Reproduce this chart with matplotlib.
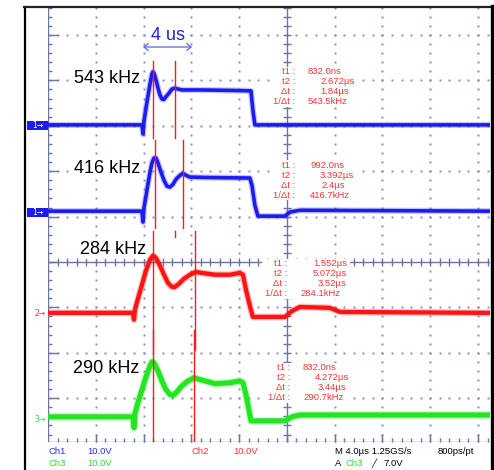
import numpy as np
import matplotlib
matplotlib.use("Agg")
import matplotlib.pyplot as plt
from matplotlib.lines import Line2D
from matplotlib.patches import Rectangle, FancyArrowPatch

W, H, DPI = 494, 470, 100

# Scope settings: 4 us/div horizontal, 10 V/div vertical
US_PER_DIV = 4.0
V_PER_DIV = 10.0

# ---- waveforms: screen time (us, 0 = screen centre) and volts above channel ground ----
t_a = [-20.0, -12.13, -12.05, -11.97, -11.80, -11.63, -11.46, -11.30, -11.21, -11.13,
       -10.96, -10.79, -10.63, -10.46, -10.29, -10.13, -9.87, -9.62, -9.37, -9.12,
       -8.79, -7.28, -4.77, -3.01, -2.85, -2.68, 17.0]
v_a = [0, 0, -2.0, 0.7, 3.7, 6.4, 9.0, 11.2, 11.7, 11.4,
       9.9, 8.1, 6.6, 5.7, 5.6, 6.2, 7.0, 7.9, 8.1, 7.9,
       7.7, 7.7, 7.6, 7.5, 3.3, 0, 0]

t_b = [-20.0, -12.13, -12.05, -11.97, -11.80, -11.63, -11.46, -11.30, -11.13, -10.96,
       -10.79, -10.54, -10.29, -10.04, -9.79, -9.54, -9.29, -8.95, -8.70, -8.45,
       -8.12, -6.44, -3.10, -2.93, -2.68, -2.43, -0.17, 0.25, 1.09, 17.0]
v_b = [0, 0, -2.4, 0.7, 3.3, 6.0, 8.6, 10.6, 11.7, 11.7,
       10.6, 8.6, 6.8, 5.5, 5.3, 5.9, 7.0, 7.9, 8.3, 7.9,
       7.5, 7.4, 7.3, 5.7, 1.3, -1.1, -1.1, -0.2, 0.2, 0]

t_c = [-20.0, -12.89, -12.80, -12.72, -12.47, -12.13, -11.80, -11.46, -11.21, -10.96,
       -10.63, -10.29, -9.96, -9.62, -9.37, -9.04, -8.62, -8.12, -7.62, -7.11,
       -6.03, -4.77, -3.93, -3.68, -3.43, -3.10, -2.85, -0.17, 0.42, 1.09,
       3.60, 4.44, 17.0]
v_c = [0, 0, -1.5, 0.7, 3.1, 6.2, 9.3, 11.7, 12.6, 12.1,
       10.4, 8.4, 6.6, 5.7, 5.7, 6.4, 7.5, 8.4, 9.0, 8.8,
       8.4, 8.4, 8.8, 8.4, 5.1, 1.5, -0.9, -0.9, 0.4, 1.3,
       1.1, 0.2, 0]

t_d = [-20.0, -12.89, -12.80, -12.72, -12.47, -12.13, -11.80, -11.46, -11.30, -11.13,
       -10.79, -10.46, -10.13, -9.79, -9.54, -9.21, -8.79, -8.28, -7.78, -7.28,
       -6.03, -4.77, -3.93, -3.68, -3.43, -3.18, -3.01, -0.17, 0.42, 1.09, 17.0]
v_d = [0, 0, -2.4, 0.7, 3.1, 6.0, 8.8, 11.2, 12.1, 11.9,
       10.1, 7.9, 6.0, 4.9, 4.7, 5.5, 6.8, 7.9, 8.6, 8.2,
       7.3, 7.5, 7.9, 7.5, 4.9, 1.5, -0.9, -0.9, 0.0, 0.4, 0.4]

# channel ground marker positions (divisions from centre)
ground_div = [3.02, 1.12, -1.12, -3.41]
trace_colors = ["#1c1cf2", "#1c1cf2", "#ff1414", "#22e622"]
trace_widths = [2.6, 2.6, 3.1, 3.7]
freq_labels = ["543 kHz", "416 kHz", "284 kHz", "290 kHz"]

# cursor readings (us, from each capture's trigger point) and trigger screen time
cursor_t1 = [0.832, 0.992, 1.552, 0.832]
cursor_t2 = [2.672, 3.392, 5.072, 4.272]
trigger_t = [-12.05, -12.05, -12.77, -12.05]
cursor_span = [(4.43, 2.73), (2.69, 0.75), (0.68, -1.94), (-1.50, -3.94)]

GRID_C = "#6c74a6"
DOT_C = "#8a8ac4"
CURSOR_C = "#ff1a1a"
READ_C = "#ff3434"

fig = plt.figure(figsize=(W / DPI, H / DPI), dpi=DPI)
fig.patch.set_facecolor("white")


def fx(px):
    return px / W


def fy(py):
    return 1 - py / H


ax = fig.add_axes([fx(48), fy(442), (490 - 48) / W, (442 - 7) / H])
X0, X1 = -20.0, 17.0
Y0, Y1 = -3.965, 5.617
ax.set_xlim(X0, X1)
ax.set_ylim(Y0, Y1)
ax.axis("off")

# ---- graticule ----
major_x = np.arange(-16, 17, 4)
major_y = np.arange(-3, 6, 1)
minor_x = np.arange(-19.2, 17.0, 0.8)
minor_y = np.arange(-3.8, 5.61, 0.2)

for xm in major_x:
    if xm == 0:
        continue
    ax.plot(np.full_like(minor_y, xm), minor_y, ls="none", marker="s",
            ms=1.4, mew=0, color=DOT_C, zorder=1)
for ym in major_y:
    if ym == 0:
        continue
    ax.plot(minor_x, np.full_like(minor_x, ym), ls="none", marker="s",
            ms=1.4, mew=0, color=DOT_C, zorder=1)

# left edge
ax.plot([X0, X0], [Y0, Y1], color=GRID_C, lw=1.0, zorder=2)
ax.plot(np.full_like(minor_y, X0), minor_y, ls="none", marker=1, ms=3,
        mew=1.0, color=GRID_C, zorder=2)
ax.plot(np.full(len(major_y), X0), major_y, ls="none", marker=1, ms=7,
        mew=1.0, color=GRID_C, zorder=2)
# bottom edge
ax.plot([X0, X1], [Y0, Y0], color=GRID_C, lw=1.0, zorder=2)
ax.plot(minor_x, np.full_like(minor_x, Y0), ls="none", marker=2, ms=3,
        mew=1.0, color=GRID_C, zorder=2)
ax.plot(major_x, np.full(len(major_x), Y0), ls="none", marker=2, ms=6,
        mew=1.0, color=GRID_C, zorder=2)
# centre axes
ax.plot([0, 0], [Y0, Y1], color=GRID_C, lw=1.0, zorder=2)
ax.plot(np.zeros_like(minor_y), minor_y, ls="none", marker="_", ms=6,
        mew=1.0, color=GRID_C, zorder=2)
ax.plot([X0, X1], [0, 0], color=GRID_C, lw=1.0, zorder=2)
ax.plot(minor_x, np.zeros_like(minor_x), ls="none", marker="|", ms=6,
        mew=1.0, color=GRID_C, zorder=2)

# ---- traces ----
series = [(t_a, v_a), (t_b, v_b), (t_c, v_c), (t_d, v_d)]
for (tt, vv), g, c, w in zip(series, ground_div, trace_colors, trace_widths):
    y = g + np.asarray(vv) / V_PER_DIV
    ax.plot(tt, y, color=c, lw=w + 1.8, alpha=0.25, solid_joinstyle="round",
            solid_capstyle="butt", zorder=3)
    ax.plot(tt, y, color=c, lw=w, solid_joinstyle="round",
            solid_capstyle="butt", zorder=4)

# ---- cursors ----
for t1, t2, tr, (ya, yb) in zip(cursor_t1, cursor_t2, trigger_t, cursor_span):
    for tc in (t1, t2):
        ax.plot([tr + tc, tr + tc], [ya, yb], color=CURSOR_C, lw=1.0, zorder=6)
ax.plot([-9.37, -9.37], [0.68, 0.55], color=CURSOR_C, lw=1.0, zorder=6)

# ---- cursor read-outs (opaque boxes over the graticule) ----
read_rows = [[72, 82, 92, 102], [165, 175, 185, 195],
             [264, 274, 284, 294], [368, 378, 388, 398]]
label_right = [295, 295, 287, 290]
value_left = [[308, 320, 320, 308], [310, 320, 321, 310],
              [313, 313, 318, 300], [303, 315, 318, 303]]
block_x = [(270, 357), (270, 359), (262, 350), (265, 353)]


def fmt_time(t):
    if t < 1.0:
        return f"{t * 1000:.1f}ns"
    return f"{t:.3f}µs"


for i in range(4):
    t1, t2 = cursor_t1[i], cursor_t2[i]
    dt = round(t2 - t1, 3)
    vals = [fmt_time(t1), f"{t2:.3f}µs",
            f"{dt:.3f}".rstrip("0").rstrip(".") + "µs",
            f"{1000.0 / dt:.1f}kHz"]
    labs = ["t1 :", "t2 :", "Δt :", "1/Δt :"]
    bx0, bx1 = block_x[i]
    by0, by1 = read_rows[i][0] - 5, read_rows[i][-1] + 5
    fig.add_artist(Rectangle((fx(bx0), fy(by1)), (bx1 - bx0) / W, (by1 - by0) / H,
                             transform=fig.transFigure, facecolor="white",
                             edgecolor="none", zorder=2))
    for r in range(4):
        yy = read_rows[i][r]
        fig.text(fx(label_right[i]), fy(yy), labs[r], color=READ_C, fontsize=6.8,
                 family="Liberation Sans", ha="right", va="center", zorder=7)
        fig.text(fx(value_left[i][r]), fy(yy), vals[r], color=READ_C, fontsize=6.8,
                 family="Liberation Sans", ha="left", va="center", zorder=7)

# ---- frequency labels ----
label_pos = [(140, 83), (140, 173), (146, 254), (139, 373)]
for lab, (px, py) in zip(freq_labels, label_pos):
    fig.text(fx(px), fy(py), lab, fontsize=13, family="Liberation Sans",
             color="black", ha="right", va="baseline", zorder=7,
             bbox=dict(facecolor="white", edgecolor="none", pad=0.5))

# one-division span marker
fig.text(fx(168), fy(40), "4 us", fontsize=13, family="Liberation Sans",
         color="#2222dd", ha="center", va="baseline", zorder=7,
         bbox=dict(facecolor="white", edgecolor="none", pad=0.5))
fig.add_artist(FancyArrowPatch(
    (fx(143), fy(47)), (fx(192), fy(47)), transform=fig.transFigure,
    arrowstyle="<->,head_length=3,head_width=2.5", color="#5a68dc", lw=0.9,
    shrinkA=0, shrinkB=0, zorder=7))

# ---- channel ground markers ----
for py in (125.5, 212.5):
    fig.add_artist(Rectangle((fx(27), fy(py + 4.5)), (48 - 27) / W, 9 / H,
                             transform=fig.transFigure, facecolor="#1c1cf2",
                             edgecolor="none"))
    fig.text(fx(37.5), fy(py), "1→", fontsize=5.5, color="white",
             family="DejaVu Sans", ha="center", va="center")
fig.text(fx(40), fy(313), "2→", fontsize=5.5, color="#ff3030",
         family="DejaVu Sans", ha="center", va="center")
fig.text(fx(40), fy(419), "3→", fontsize=5.5, color="#30e030",
         family="DejaVu Sans", ha="center", va="center")

# ---- status line ----
BLUE_T, RED_T, GREEN_T = "#2b2bff", "#ff3333", "#33dd33"
status = [
    (48, 452, "Ch1", BLUE_T), (87, 452, "10.0V", BLUE_T),
    (191, 452, "Ch2", RED_T), (233, 452, "10.0V", RED_T),
    (335, 452, "M 4.0µs 1.25GS/s", "black"), (438, 452, "800ps/pt", "black"),
    (48, 463, "Ch3", GREEN_T), (87, 463, "10.0V", GREEN_T),
    (335, 463, "A", "black"), (346, 463, "Ch3", GREEN_T),
    (383, 463, "7.0V", "black"),
]
for px, py, s, c in status:
    fig.text(fx(px), fy(py), s, fontsize=6.8, family="Liberation Sans",
             color=c, ha="left", va="center")
fig.text(fx(371), fy(463), "╱", fontsize=6, family="DejaVu Sans",
         color="black", ha="left", va="center")

# ---- outer frame ----
fig.add_artist(Line2D([fx(24.5), fx(24.5)], [0, fy(6.5)], color="black", lw=1.6,
                      transform=fig.transFigure, zorder=8))
fig.add_artist(Line2D([fx(23.8), fx(492.5)], [fy(7), fy(7)], color="#222222", lw=1.6,
                      transform=fig.transFigure, zorder=8))
fig.add_artist(Line2D([fx(491.5), fx(491.5)], [0, fy(6.3)], color="black", lw=2.4,
                      transform=fig.transFigure, zorder=8))

fig.savefig("out.png", dpi=DPI)
